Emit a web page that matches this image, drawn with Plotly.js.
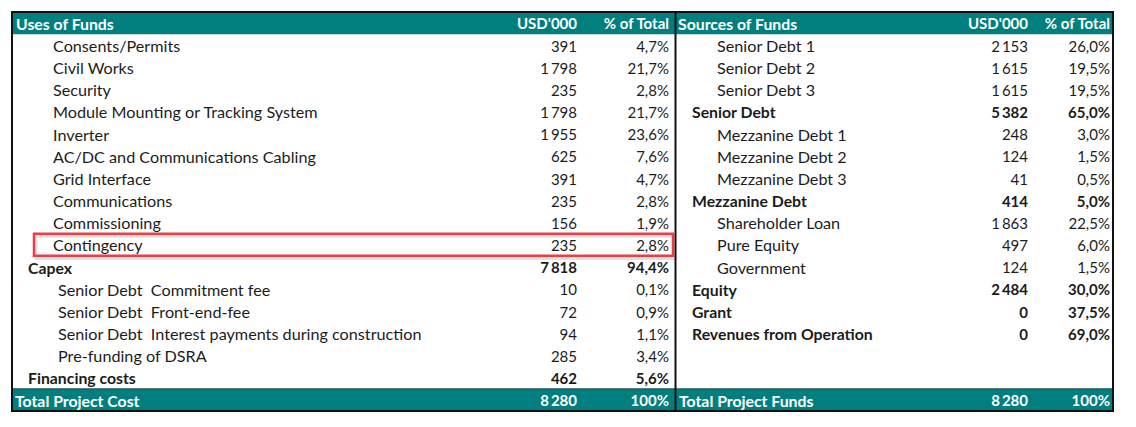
<!DOCTYPE html>
<html><head><meta charset="utf-8">
<script src="https://cdn.plot.ly/plotly-3.0.1.min.js"></script>
<style>html,body{margin:0;padding:0;background:#fff;}#chart{width:1136px;height:427px;}</style>
</head><body><div id="chart"></div>
<script>
// ---- data ----
const headers = ["Uses of Funds", "USD'000", "% of Total", "Sources of Funds", "USD'000", "% of Total"];
const usesLabels = ["Consents/Permits","Civil Works","Security","Module Mounting or Tracking System","Inverter","AC/DC and Communications Cabling","Grid Interface","Communications","Commissioning","Contingency","Capex","Senior Debt  Commitment fee","Senior Debt  Front-end-fee","Senior Debt  Interest payments during construction","Pre-funding of DSRA","Financing costs"];
const usesValues = [391,1798,235,1798,1955,625,391,235,156,235,7818,10,72,94,285,462];
const usesPct = [4.7,21.7,2.8,21.7,23.6,7.6,4.7,2.8,1.9,2.8,94.4,0.1,0.9,1.1,3.4,5.6];
const usesLevel = [2,2,2,2,2,2,2,2,2,2,1,3,3,3,3,1];
const sourcesLabels = ["Senior Debt 1","Senior Debt 2","Senior Debt 3","Senior Debt","Mezzanine Debt 1","Mezzanine Debt 2","Mezzanine Debt 3","Mezzanine Debt","Shareholder Loan","Pure Equity","Government","Equity","Grant","Revenues from Operation"];
const sourcesValues = [2153,1615,1615,5382,248,124,41,414,1863,497,124,2484,0,0];
const sourcesPct = [26.0,19.5,19.5,65.0,3.0,1.5,0.5,5.0,22.5,6.0,1.5,30.0,37.5,69.0];
const sourcesLevel = [2,2,2,1,2,2,2,1,2,2,2,1,1,1];
const totalLabels = ["Total Project Cost","Total Project Funds"];
const totalValues = [8280, 8280];
const totalPct = [100, 100];
const highlightRow = "Contingency";

// ---- formatting helpers ----
const NB = "\u00a0";
function fmtNum(v){ return String(v).replace(/\B(?=(\d{3})+(?!\d))/g, "\u2009"); }
function fmtPct(p){ return p === 100 ? "100%" : p.toFixed(1).replace(".", ",") + "%"; }
function bold(t){ return "<b>" + t + "</b>"; }

// ---- geometry (pixel-based x axis, row-index y axis) ----
const W = 1136, H = 427;
const nBody = usesLabels.length;
const nRows = nBody + 2;
const tblTop = 12, tblBottom = 411;
const rowH = (tblBottom - tblTop) / nRows;
const yTop = -0.5 - tblTop / rowH;
const yBot = (nRows - 0.5) + (H - tblBottom) / rowH;
const footerRow = nRows - 1;
const dy = 0.12; // optical baseline nudge

const TEAL = "#007f7e";
const TXT = "#1c1c1c";
const FONT = "Lato, 'Open Sans', sans-serif";
const LREG = 16.2, LBLD = 15.8, NREG = 15, NBLD = 15, HDR = 15;

const colX = {
  usesLabel: {0: 16, 1: 28, 2: 53, 3: 58, total: 15},
  usesVal: 577, usesPct: 669,
  srcLabel: {0: 678, 1: 692, 2: 717, total: 679},
  srcVal: 1028, srcPct: 1110
};

function colTrace(items, anchor){
  return {
    type: "scatter", mode: "text",
    x: items.map(d => d.x), y: items.map(d => d.y + dy),
    text: items.map(d => d.t),
    textposition: anchor === "left" ? "middle right" : "middle left",
    textfont: {family: FONT, size: items.map(d => d.s), color: items.map(d => d.c)},
    hoverinfo: "skip", showlegend: false, cliponaxis: false
  };
}

const L1 = [], L2 = [], L3 = [], R1 = [], R2 = [], R3 = [];
const hdr = (t) => ({t: bold(t), s: HDR, c: "#ffffff", y: 0});
L1.push(Object.assign(hdr(headers[0]), {x: colX.usesLabel[0], s: LBLD}));
L2.push(Object.assign(hdr(headers[1]), {x: colX.usesVal}));
L3.push(Object.assign(hdr(headers[2]), {x: colX.usesPct}));
R1.push(Object.assign(hdr(headers[3]), {x: colX.srcLabel[0], s: LBLD}));
R2.push(Object.assign(hdr(headers[4]), {x: colX.srcVal}));
R3.push(Object.assign(hdr(headers[5]), {x: colX.srcPct}));
usesLabels.forEach((lab, i) => {
  const lv = usesLevel[i], isB = lv === 1, y = i + 1;
  const f = (t) => isB ? bold(t) : t;
  L1.push({t: f(lab.replace(/  /g, NB + NB)), s: isB ? LBLD : LREG, c: TXT, y, x: colX.usesLabel[lv]});
  L2.push({t: f(fmtNum(usesValues[i])), s: isB ? NBLD : NREG, c: TXT, y, x: colX.usesVal});
  L3.push({t: f(fmtPct(usesPct[i])), s: isB ? NBLD : NREG, c: TXT, y, x: colX.usesPct});
});
sourcesLabels.forEach((lab, i) => {
  const lv = sourcesLevel[i], isB = lv === 1, y = i + 1;
  const f = (t) => isB ? bold(t) : t;
  R1.push({t: f(lab), s: isB ? LBLD : LREG, c: TXT, y, x: colX.srcLabel[lv]});
  R2.push({t: f(fmtNum(sourcesValues[i])), s: isB ? NBLD : NREG, c: TXT, y, x: colX.srcVal});
  R3.push({t: f(fmtPct(sourcesPct[i])), s: isB ? NBLD : NREG, c: TXT, y, x: colX.srcPct});
});
const ftr = (t) => ({t: bold(t), s: NBLD, c: "#ffffff", y: footerRow});
L1.push(Object.assign(ftr(totalLabels[0]), {x: colX.usesLabel.total, s: LBLD}));
L2.push(Object.assign(ftr(fmtNum(totalValues[0])), {x: colX.usesVal}));
L3.push(Object.assign(ftr(fmtPct(totalPct[0])), {x: colX.usesPct}));
R1.push(Object.assign(ftr(totalLabels[1]), {x: colX.srcLabel.total, s: LBLD}));
R2.push(Object.assign(ftr(fmtNum(totalValues[1])), {x: colX.srcVal}));
R3.push(Object.assign(ftr(fmtPct(totalPct[1])), {x: colX.srcPct}));

const traces = [colTrace(L1, "left"), colTrace(L2, "right"), colTrace(L3, "right"),
                colTrace(R1, "left"), colTrace(R2, "right"), colTrace(R3, "right")];

const hi = usesLabels.indexOf(highlightRow) + 1;
const xL = 12, xR = 1113, xDiv = 675.5;
const shapes = [
  {type: "rect", xref: "x", yref: "y", x0: xL, x1: xR, y0: -0.5, y1: 0.5, fillcolor: TEAL, line: {width: 0}, layer: "below"},
  {type: "rect", xref: "x", yref: "y", x0: xL, x1: xR, y0: footerRow - 0.5, y1: footerRow + 0.5, fillcolor: TEAL, line: {width: 0}, layer: "below"},
  {type: "line", xref: "x", yref: "y", x0: xL, x1: xR, y0: footerRow - 0.5, y1: footerRow - 0.5, line: {color: "#2a4a4a", width: 1}},
  {type: "rect", xref: "x", yref: "y", x0: xL, x1: xR, y0: -0.5, y1: footerRow + 0.5, line: {color: "#111", width: 2}},
  {type: "line", xref: "x", yref: "y", x0: xDiv, x1: xDiv, y0: -0.5, y1: footerRow + 0.5, line: {color: "#111", width: 2}},
  {type: "rect", xref: "x", yref: "y", x0: 36, x1: 675, y0: hi - 0.5 + 0.12, y1: hi + 0.5 + 0.12, line: {color: "rgba(0,0,0,0.12)", width: 3}, layer: "below"},
  {type: "rect", xref: "x", yref: "y", x0: 34, x1: 673, y0: hi - 0.5, y1: hi + 0.5, line: {color: "#ec3f45", width: 2.5}}
];

Plotly.newPlot("chart", traces, {
  width: W, height: H,
  margin: {l: 0, r: 0, t: 0, b: 0},
  paper_bgcolor: "#ffffff", plot_bgcolor: "#ffffff",
  xaxis: {range: [0, W], visible: false, fixedrange: true},
  yaxis: {range: [yBot, yTop], visible: false, fixedrange: true},
  shapes: shapes, hovermode: false, showlegend: false
}, {displayModeBar: false, staticPlot: true});
</script></body></html>
